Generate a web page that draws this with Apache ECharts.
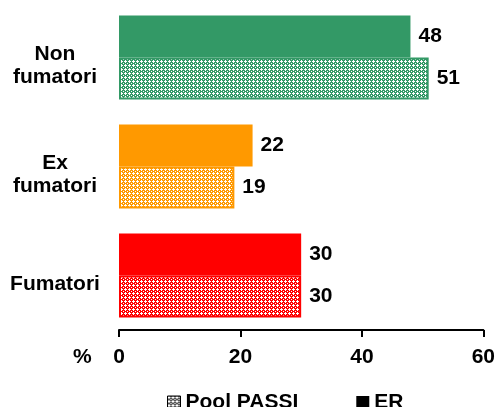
<!DOCTYPE html>
<html><head><meta charset="utf-8">
<script src="https://cdn.jsdelivr.net/npm/echarts@6/dist/echarts.min.js"></script>
<style>html,body{margin:0;padding:0;background:#fff}#c{width:498px;height:407px}</style>
</head><body><div id="c"></div>
<script>
const categories = ['Non\nfumatori', 'Ex\nfumatori', 'Fumatori'];
const erValues = [48, 22, 30];
const poolValues = [51, 19, 30];
const seriesNames = ['ER', 'Pool PASSI'];
const legendOrder = ['Pool PASSI', 'ER'];
const axisMin = 0, axisMax = 60, axisStep = 20;
const axisUnit = '%';

const catColors = ['#339966', '#FF9900', '#FF0000'];
const FONT = '"Liberation Sans", Arial, sans-serif';
const FS = 21;

function makePattern(color, white) {
  const c = document.createElement('canvas');
  c.width = 4; c.height = 4;
  const g = c.getContext('2d');
  g.fillStyle = color; g.fillRect(0, 0, 4, 4);
  g.fillStyle = white;
  [[1,0],[0,1],[1,1],[2,1],[1,2],[3,3]].forEach(p => g.fillRect(p[0], p[1], 1, 1));
  return { image: c, repeat: 'repeat' };
}

const chart = echarts.init(document.getElementById('c'), null, { renderer: 'canvas' });

const labelStyle = { show: true, position: 'right', distance: 8, color: '#000', fontFamily: FONT, fontWeight: 'bold', fontSize: FS };

chart.setOption({
  animation: false,
  grid: { left: 119, right: 11, top: 3, bottom: 77, containLabel: false },
  xAxis: {
    type: 'value', min: axisMin, max: axisMax, interval: axisStep,
    axisLine: { show: true, lineStyle: { color: '#000', width: 2 } },
    axisTick: { show: true, length: 7, lineStyle: { color: '#000', width: 2 } },
    splitLine: { show: false },
    axisLabel: { margin: 17, color: '#000', fontFamily: FONT, fontWeight: 'bold', fontSize: FS }
  },
  yAxis: {
    type: 'category', inverse: true, data: categories,
    axisLine: { show: false }, axisTick: { show: false },
    axisLabel: {
      margin: 18, padding: [17, 0, 0, 0],
      formatter: v => v.split('\n').map(l => '{a|' + l + '}').join('\n'),
      rich: { a: { width: 92, align: 'center', color: '#000', fontFamily: FONT, fontWeight: 'bold', fontSize: FS, lineHeight: 23 } }
    }
  },
  legend: {
    left: 162, top: 387, itemWidth: 13, itemHeight: 13, itemGap: 58,
    data: [
      { name: legendOrder[0], icon: 'rect', itemStyle: { color: makePattern('#555', '#fff'), borderColor: '#000', borderWidth: 1 } },
      { name: legendOrder[1], icon: 'rect', itemStyle: { color: '#000' } }
    ],
    textStyle: { color: '#000', fontFamily: FONT, fontWeight: 'bold', fontSize: FS }
  },
  graphic: [{ type: 'text', left: 73, top: 347, style: { text: axisUnit, fill: '#000', font: 'bold 21px "Liberation Sans", Arial, sans-serif' } }],
  series: [
    {
      name: seriesNames[0], type: 'bar', barWidth: 42, barGap: '0%',
      itemStyle: { color: '#000' },
      label: labelStyle,
      data: erValues.map((v, i) => ({ value: v, itemStyle: { color: catColors[i], borderColor: catColors[i], borderWidth: 0 } }))
    },
    {
      name: seriesNames[1], type: 'bar', barWidth: 42, barGap: '0%',
      itemStyle: { color: makePattern('#555', '#fff'), borderColor: '#000', borderWidth: 1 },
      label: labelStyle,
      data: poolValues.map((v, i) => ({ value: v, itemStyle: { color: makePattern(catColors[i], '#fff'), borderColor: catColors[i], borderWidth: 2 } }))
    }
  ]
});
</script>
</body></html>
